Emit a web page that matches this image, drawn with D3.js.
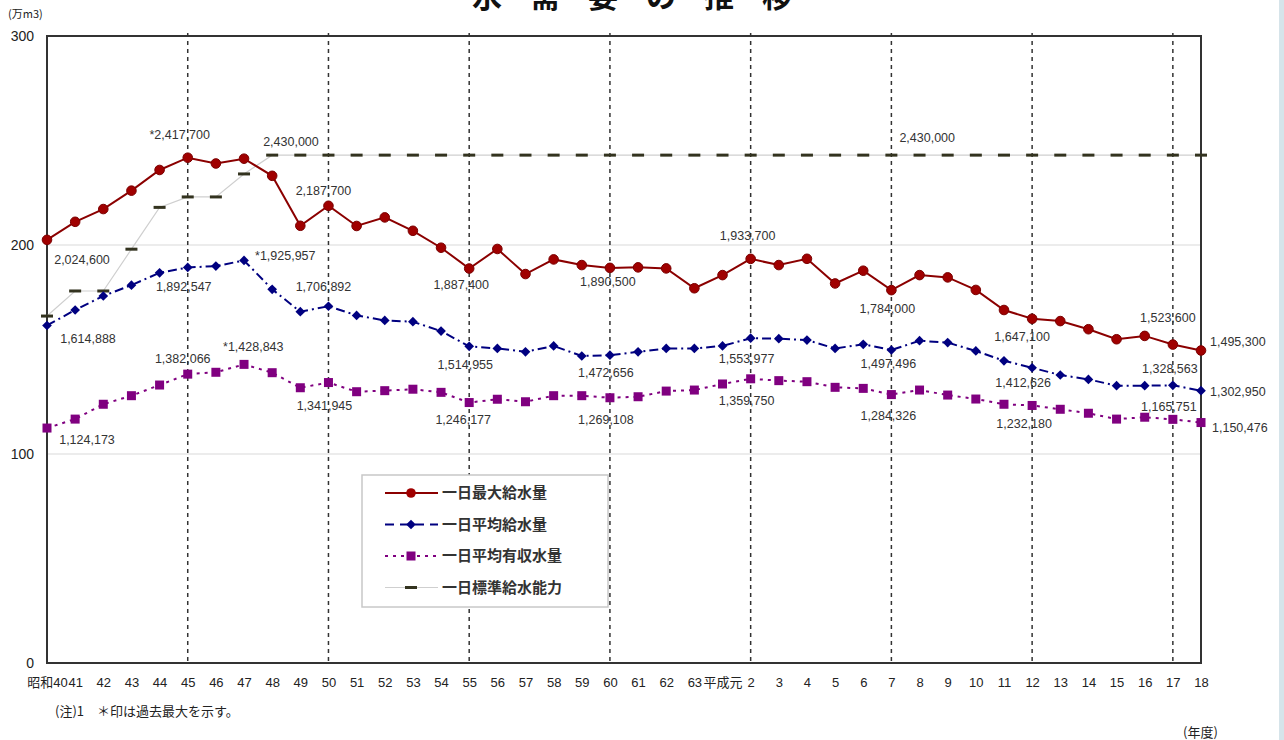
<!DOCTYPE html>
<html>
<head>
  <meta charset="utf-8">
  <title>水需要の推移</title>
  <script src="https://d3js.org/d3.v7.min.js"></script>
  <style>
    body { margin: 0; background: #fff; }
    text { font-family: "Liberation Sans", Arial, "Noto Sans CJK JP", sans-serif; fill: #222; }
    .jp { font-family: "Noto Sans CJK JP", sans-serif; }
  </style>
</head>
<body>
  <div id="chart"></div>
  <script>
    // 年度
    const years = ["昭和40","41","42","43","44","45","46","47","48","49","50","51","52","53","54",
      "55","56","57","58","59","60","61","62","63","平成元","2","3","4","5","6","7","8","9","10",
      "11","12","13","14","15","16","17","18"];

    // 万m3
    const maxSupply = [202.46,211.1,217.2,226.0,235.9,241.77,239.0,241.3,233.1,209.2,218.77,209.1,213.2,206.8,198.7,
      188.74,198.1,186.1,193.1,190.4,189.05,189.3,188.8,179.3,185.6,193.37,190.4,193.4,181.6,187.7,
      178.4,185.6,184.5,178.5,168.9,164.71,163.6,159.7,154.9,156.5,152.36,149.53];
    const avgSupply = [161.49,168.9,175.6,180.8,186.7,189.25,189.9,192.60,178.8,168.1,170.69,166.3,163.9,163.3,158.8,
      151.50,150.5,148.9,151.7,146.9,147.27,148.9,150.5,150.5,151.7,155.40,155.2,154.5,150.5,152.5,
      149.75,154.2,153.3,149.3,144.6,141.26,137.8,135.7,132.7,132.7,132.86,130.30];
    const avgBilled = [112.42,116.7,123.8,127.9,133.0,138.21,139.1,142.88,138.9,131.7,134.19,129.8,130.3,131.0,129.5,
      124.62,126.2,125.0,127.9,127.9,126.91,127.4,130.1,130.6,133.5,135.98,135.1,134.6,131.9,131.4,
      128.43,130.6,128.2,126.3,123.8,123.22,121.4,119.5,116.7,117.6,116.58,115.05];
    const capacity = [166,178,178,198,218,223,223,234,243,243,243,243,243,243,243,
      243,243,243,243,243,243,243,243,243,243,243,243,243,243,243,
      243,243,243,243,243,243,243,243,243,243,243,243];

    const yTicks = [0, 100, 200, 300];
    const gridYears = ["45","50","55","60","2","7","12","17"];

    // point labels: series, index, text
    const labels = [
      ["max", 0, "2,024,600"], ["max", 5, "*2,417,700"], ["max", 10, "2,187,700"], ["max", 15, "1,887,400"],
      ["max", 20, "1,890,500"], ["max", 25, "1,933,700"], ["max", 30, "1,784,000"], ["max", 35, "1,647,100"],
      ["max", 40, "1,523,600"], ["max", 41, "1,495,300"],
      ["avg", 0, "1,614,888"], ["avg", 5, "1,892,547"], ["avg", 7, "*1,925,957"], ["avg", 10, "1,706,892"],
      ["avg", 15, "1,514,955"], ["avg", 20, "1,472,656"], ["avg", 25, "1,553,977"], ["avg", 30, "1,497,496"],
      ["avg", 35, "1,412,626"], ["avg", 40, "1,328,563"], ["avg", 41, "1,302,950"],
      ["billed", 0, "1,124,173"], ["billed", 5, "1,382,066"], ["billed", 7, "*1,428,843"], ["billed", 10, "1,341,945"],
      ["billed", 15, "1,246,177"], ["billed", 20, "1,269,108"], ["billed", 25, "1,359,750"], ["billed", 30, "1,284,326"],
      ["billed", 35, "1,232,180"], ["billed", 40, "1,165,751"], ["billed", 41, "1,150,476"],
      ["cap", 8, "2,430,000"], ["cap", 30, "2,430,000"]
    ];
    // label offsets from the point [dx, dy, anchor], same order as labels
    const labelOffsets = [
      [35,20,"middle"],[-8,-23,"middle"],[-5,-15,"middle"],[-8,16,"middle"],
      [-2,14,"middle"],[-3,-23,"middle"],[-4,18,"middle"],[-10,18,"middle"],
      [-5,-27,"middle"],[9,-9,"start"],
      [41,13,"middle"],[-4,19,"middle"],[11,-5,"start"],[-5,-20,"middle"],
      [-4,18,"middle"],[-4,17,"middle"],[-4,20,"middle"],[-3,14,"middle"],
      [-9,15,"middle"],[-3,-17,"middle"],[9,1,"start"],
      [40,12,"middle"],[-5,-16,"middle"],[-21,-18,"start"],[-4,23,"middle"],
      [-6,17,"middle"],[-4,22,"middle"],[-4,22,"middle"],[-3,21,"middle"],
      [-8,18,"middle"],[-4,-13,"middle"],[11,5,"start"],
      [-9,-14,"start"],[8,-18,"start"]
    ];

    const W = 1284, H = 740;
    const svg = d3.select("#chart").append("svg")
      .attr("width", W).attr("height", H);

    const x = d3.scalePoint().domain(years).range([47, 1201]);
    const y = d3.scaleLinear().domain([0, 300]).range([663, 36]);

    // light strip at right edge
    svg.append("rect").attr("x", 1279).attr("y", 0).attr("width", 5).attr("height", H).attr("fill", "#d6e4ea");

    // title (top is cut off in the original)
    const title = "水需要の推移".split("");
    svg.selectAll(".title").data(title).enter().append("text")
      .attr("class", "title jp")
      .attr("x", (d, i) => 632 + (i - 2.5) * 58)
      .attr("y", 7)
      .attr("text-anchor", "middle")
      .style("font-size", "30px")
      .style("font-weight", "bold")
      .style("fill", "#111")
      .text(d => d);

    // horizontal grid
    svg.selectAll(".hgrid").data([100, 200]).enter().append("line")
      .attr("x1", 47).attr("x2", 1201)
      .attr("y1", d => y(d)).attr("y2", d => y(d))
      .attr("stroke", "#e6e6e6").attr("stroke-width", 1.5);

    // vertical dashed grid
    svg.selectAll(".vgrid").data(gridYears).enter().append("line")
      .attr("x1", d => x(d)).attr("x2", d => x(d))
      .attr("y1", y(300) - 3).attr("y2", y(0))
      .attr("stroke", "#333").attr("stroke-width", 1.5)
      .attr("stroke-dasharray", "4,4");

    // frame
    svg.append("rect")
      .attr("x", 47).attr("y", y(300))
      .attr("width", 1201 - 47).attr("height", y(0) - y(300))
      .attr("fill", "none").attr("stroke", "#333").attr("stroke-width", 2);

    // y axis
    const yAxis = svg.append("g")
      .attr("transform", "translate(47,0)")
      .call(d3.axisLeft(y).tickValues(yTicks).tickSize(0).tickPadding(13));
    yAxis.select(".domain").remove();
    yAxis.selectAll("text").style("font-size", "14px").style("fill", "#222")
      .style("font-family", "'Liberation Sans', Arial, sans-serif");

    svg.append("text").attr("class", "jp").attr("x", 8).attr("y", 18)
      .style("font-size", "11px").text("(万m3)");

    // x axis
    const xAxis = svg.append("g")
      .attr("transform", "translate(0," + y(0) + ")")
      .call(d3.axisBottom(x).tickSize(0).tickPadding(15));
    xAxis.select(".domain").remove();
    xAxis.selectAll("text").style("font-size", "13px").style("fill", "#222")
      .style("font-family", "'Liberation Sans', Arial, 'Noto Sans CJK JP', sans-serif");

    svg.append("text").attr("class", "jp").attr("x", 1183).attr("y", 737)
      .style("font-size", "13px").text("(年度)");
    svg.append("text").attr("class", "jp").attr("x", 55).attr("y", 716)
      .style("font-size", "13px").text("(注)1\u3000＊印は過去最大を示す。");

    const line = vals => d3.line().x((d, i) => x(years[i])).y(d => y(d))(vals);

    // standard capacity
    svg.append("path").attr("d", line(capacity))
      .attr("fill", "none").attr("stroke", "#cfcfcf").attr("stroke-width", 1.2);
    svg.selectAll(".cap").data(capacity).enter().append("rect")
      .attr("x", (d, i) => x(years[i]) - 6).attr("y", d => y(d) - 1.5)
      .attr("width", 12).attr("height", 3)
      .attr("fill", "#33331f");

    // average billed
    svg.append("path").attr("d", line(avgBilled))
      .attr("fill", "none").attr("stroke", "#800080").attr("stroke-width", 2)
      .attr("stroke-dasharray", "3,5");
    svg.selectAll(".billed").data(avgBilled).enter().append("rect")
      .attr("x", (d, i) => x(years[i]) - 4.5).attr("y", d => y(d) - 4.5)
      .attr("width", 9).attr("height", 9)
      .attr("fill", "#800080");

    // average supply
    svg.append("path").attr("d", line(avgSupply))
      .attr("fill", "none").attr("stroke", "#000080").attr("stroke-width", 2)
      .attr("stroke-dasharray", "9,4,2,4");
    svg.selectAll(".avg").data(avgSupply).enter().append("path")
      .attr("d", d3.symbol().type(d3.symbolDiamond2).size(60))
      .attr("transform", (d, i) => "translate(" + x(years[i]) + "," + y(d) + ")")
      .attr("fill", "#000080");

    // max supply
    svg.append("path").attr("d", line(maxSupply))
      .attr("fill", "none").attr("stroke", "#8b0000").attr("stroke-width", 2);
    svg.selectAll(".max").data(maxSupply).enter().append("circle")
      .attr("cx", (d, i) => x(years[i])).attr("cy", d => y(d)).attr("r", 4.8)
      .attr("fill", "#a00000").attr("stroke", "#7a0000").attr("stroke-width", 1);

    // value labels
    const seriesMap = { max: maxSupply, avg: avgSupply, billed: avgBilled, cap: capacity };
    svg.selectAll(".vlabel").data(labels).enter().append("text")
      .attr("x", (d, i) => x(years[d[1]]) + labelOffsets[i][0])
      .attr("y", (d, i) => y(seriesMap[d[0]][d[1]]) + labelOffsets[i][1])
      .attr("dy", "0.35em")
      .attr("text-anchor", (d, i) => labelOffsets[i][2])
      .style("font-size", "12.5px")
      .style("fill", "#333")
      .text(d => d[2]);

    // legend
    const legendItems = ["一日最大給水量", "一日平均給水量", "一日平均有収水量", "一日標準給水能力"];
    const lg = svg.append("g").attr("transform", "translate(362,475)");
    lg.append("rect").attr("width", 246).attr("height", 132)
      .attr("fill", "#fff").attr("stroke", "#c8c8c8").attr("stroke-width", 1.5);
    const rows = lg.selectAll(".lrow").data(legendItems).enter().append("g")
      .attr("transform", (d, i) => "translate(0," + (18 + i * 31.5) + ")");
    rows.append("text").attr("class", "jp")
      .attr("x", 80).attr("dy", "0.35em")
      .style("font-size", "15px").style("font-weight", "bold").style("fill", "#333")
      .text(d => d);
    rows.each(function(d, i) {
      const g = d3.select(this);
      if (i === 0) {
        g.append("line").attr("x1", 23).attr("x2", 76).attr("stroke", "#8b0000").attr("stroke-width", 2);
        g.append("circle").attr("cx", 49).attr("r", 4.8).attr("fill", "#a00000");
      } else if (i === 1) {
        g.append("line").attr("x1", 23).attr("x2", 76).attr("stroke", "#000080").attr("stroke-width", 2)
          .attr("stroke-dasharray", "9,6");
        g.append("path").attr("d", d3.symbol().type(d3.symbolDiamond2).size(60)).attr("transform", "translate(49,0)")
          .attr("fill", "#000080");
      } else if (i === 2) {
        g.append("line").attr("x1", 23).attr("x2", 76).attr("stroke", "#800080").attr("stroke-width", 2)
          .attr("stroke-dasharray", "3,5");
        g.append("rect").attr("x", 44.5).attr("y", -4.5).attr("width", 9).attr("height", 9).attr("fill", "#800080");
      } else {
        g.append("line").attr("x1", 23).attr("x2", 76).attr("stroke", "#cfcfcf").attr("stroke-width", 1.2);
        g.append("rect").attr("x", 43).attr("y", -1.5).attr("width", 12).attr("height", 3).attr("fill", "#33331f");
      }
    });
  </script>
</body>
</html>
